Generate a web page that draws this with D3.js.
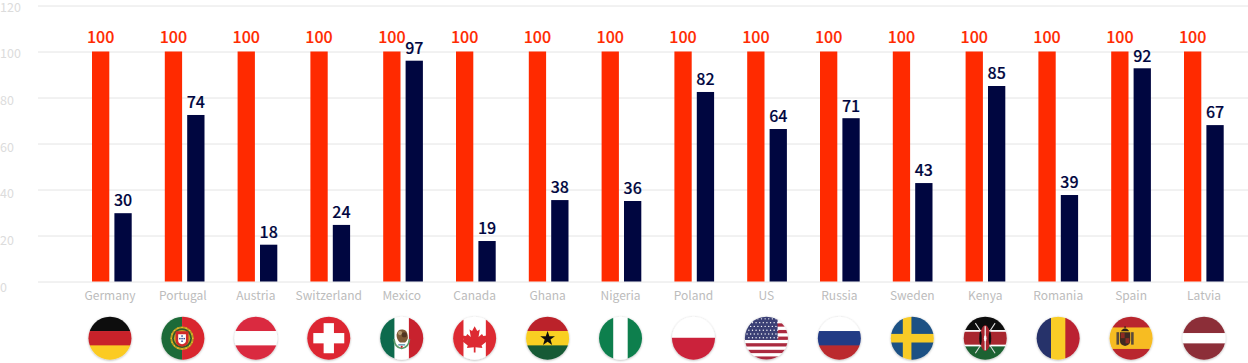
<!DOCTYPE html>
<html><head><meta charset="utf-8">
<script src="https://cdn.jsdelivr.net/npm/d3@7/dist/d3.min.js"></script>
<style>
html,body{margin:0;padding:0;background:#fff;overflow:hidden}
text{font-family:"Noto Sans CJK KR","Noto Sans",sans-serif}
</style></head><body><svg id="c" width="1248" height="363"></svg>
<script>
const categories=["Germany","Portugal","Austria","Switzerland","Mexico","Canada","Ghana","Nigeria","Poland","US","Russia","Sweden","Kenya","Romania","Spain","Latvia"];
const referenceValues=[100,100,100,100,100,100,100,100,100,100,100,100,100,100,100,100];
const countryValues=[29.7,72.4,16,24.6,96,17.6,35.4,35,82.4,66.3,71,42.8,85,37.6,92.7,68];
const countryLabels=[30,74,18,24,97,19,38,36,82,64,71,43,85,39,92,67];
const yTicks=[0,20,40,60,80,100,120];
const RED="#ff2a00",NAVY="#000640";

const svg=d3.select("#c");
const y=d3.scaleLinear().domain([0,120]).range([281.5,5.5]);
const yLabel=d3.scaleLinear().domain([0,120]).range([285.7,5.7]);
// labels and flags sit on a slightly wider band than the bars
const x=d3.scaleBand().domain(categories).range([73.5,1240.5]);
const xBar=d3.scaleBand().domain(categories).range([92,92+72.8*16]);
const barW=17.3;
const xRef=c=>xBar(c), xVal=c=>xBar(c)+22.4;

const gy=svg.append("g").attr("transform","translate(38,0)")
  .call(d3.axisLeft(y).tickValues(yTicks).tickSize(-1210));
gy.select(".domain").remove();
gy.selectAll("line").attr("stroke","#e4e4e4").attr("stroke-width",1);
gy.selectAll("text").attr("x",-38).attr("text-anchor","start").attr("fill","#dcdcdc").attr("font-size",12.5).attr("font-weight",400)
  .attr("dy",null).attr("dominant-baseline","central")
  .attr("y",d=>yLabel(d)-y(d));

const gx=svg.append("g").attr("transform","translate(0,281.5)")
  .call(d3.axisBottom(x).tickSize(0).tickPadding(10));
gx.select(".domain").remove();
gx.selectAll("text").attr("fill","#bcbcbc").attr("font-size",12).attr("font-weight",400);

svg.append("g").selectAll("rect").data(categories).join("rect")
  .attr("x",c=>xRef(c)).attr("width",barW)
  .attr("y",(c,i)=>y(referenceValues[i])).attr("height",(c,i)=>y(0)-y(referenceValues[i])).attr("fill",RED);
svg.append("g").selectAll("rect").data(categories).join("rect")
  .attr("x",c=>xVal(c)).attr("width",barW)
  .attr("y",(c,i)=>y(countryValues[i])).attr("height",(c,i)=>y(0)-y(countryValues[i])).attr("fill",NAVY);

svg.append("g").selectAll("text").data(categories).join("text")
  .attr("x",c=>xRef(c)+barW/2).attr("y",(c,i)=>y(referenceValues[i])-8.2)
  .attr("text-anchor","middle").attr("fill",RED).attr("stroke",RED).attr("stroke-width",.15).attr("font-size",16).attr("font-weight",500)
  .text((c,i)=>referenceValues[i]);
svg.append("g").selectAll("text").data(categories).join("text")
  .attr("x",c=>xVal(c)+barW/2).attr("y",(c,i)=>y(countryValues[i])-6.7)
  .attr("text-anchor","middle").attr("fill",NAVY).attr("stroke",NAVY).attr("stroke-width",.15).attr("font-size",16).attr("font-weight",500)
  .text((c,i)=>countryLabels[i]);

// flags, drawn in a 100x100 box clipped by a circle
const defs=svg.append("defs");
defs.append("clipPath").attr("id","flagClip").append("circle").attr("cx",50).attr("cy",50).attr("r",50);
const sh=defs.append("filter").attr("id","sh").attr("x","-20%").attr("y","-20%").attr("width","140%").attr("height","140%");
sh.append("feDropShadow").attr("dx",0).attr("dy",1.5).attr("stdDeviation",2.6).attr("flood-color","#000").attr("flood-opacity",.3);
const bl=defs.append("filter").attr("id","soft").attr("x","-5%").attr("y","-5%").attr("width","110%").attr("height","110%");
bl.append("feGaussianBlur").attr("stdDeviation",.7);

const R=(g,x,y,w,h,f)=>g.append("rect").attr("x",x).attr("y",y).attr("width",w).attr("height",h).attr("fill",f);
const H=(g,cols)=>cols.forEach((c,i)=>R(g,-2,i*100/cols.length-(i?0:2),104,100/cols.length+2.3,c));
const V=(g,cols)=>cols.forEach((c,i)=>R(g,i*100/cols.length-(i?0:2),-2,100/cols.length+2.3,104,c));
const C=(g,x,y,r,f)=>g.append("circle").attr("cx",x).attr("cy",y).attr("r",r).attr("fill",f);
const P=(g,d,f,s,sw)=>g.append("path").attr("d",d).attr("fill",f||"none").attr("stroke",s||"none").attr("stroke-width",sw||0);
const star=(cx,cy,r)=>d3.range(10).map(i=>{const a=-Math.PI/2+i*Math.PI/5,q=i%2?r*.4:r;return (i?"L":"M")+(cx+q*Math.cos(a))+","+(cy+q*Math.sin(a));}).join("")+"Z";

const flags={
 Germany:g=>H(g,["#0d0d0d","#c8242b","#fbcb23"]),
 Portugal:g=>{R(g,-2,-2,50,104,"#1c6b38");R(g,48,-2,54,104,"#d9282f");
   C(g,48,50,27,"#b89a22");C(g,48,50,23,"#2f5a2a");
   d3.range(16).forEach(i=>{const a=i*Math.PI/8;C(g,48+25*Math.cos(a),50+25*Math.sin(a),1.8,"#e8c92c");});
   C(g,48,50,19,"#c8a428");P(g,"M33 34H63V55Q63 68 48 70Q33 68 33 55Z","#cf2a2c");
   P(g,"M39 41H57V56Q57 62 48 64Q39 62 39 56Z","#fff");
   [[48,45],[43,51],[48,51],[53,51],[48,57]].forEach(p=>R(g,p[0]-1.7,p[1]-1.7,3.4,3.4,"#27408f"));},
 Austria:g=>H(g,["#da2c3f","#ffffff","#da2c3f"]),
 Switzerland:g=>{R(g,-2,-2,104,104,"#dd2530");R(g,38,15,24,70,"#fff");R(g,14,38,72,24,"#fff");},
 Mexico:g=>{V(g,["#0f6b4d","#ffffff","#c8242f"]);
   P(g,"M38 42Q40 30 50 30Q62 28 64 44Q66 54 58 60H46Q38 54 38 42Z","#7d5a35");
   C(g,46,38,5,"#b59a70");C(g,56,42,6,"#4f3420");
   P(g,"M32 52Q34 72 50 74Q66 72 68 52","none","#5f9a68",4);
   R(g,42,64,16,3,"#4d8fa8");C(g,50,70,2.5,"#c8242f");},
 Canada:g=>{R(g,-2,-2,104,104,"#fff");R(g,-2,-2,26,104,"#dd2a30");R(g,76,-2,26,104,"#dd2a30");
   P(g,"M50 22L56 33L62 30L59 47L67 40L70 45L79 44L76 53L80 56L66 67L68 73L52 71L52 83H48L48 71L32 73L34 67L20 56L24 53L21 44L30 45L33 40L41 47L38 30L44 33Z","#dd2a30");},
 Ghana:g=>{H(g,["#bb2429","#f9cf24","#175a36"]);P(g,star(50,51,18),"#111");},
 Nigeria:g=>V(g,["#0f7f4d","#ffffff","#0f7f4d"]),
 Poland:g=>{R(g,-2,-2,104,52,"#fff");R(g,-2,49,104,53,"#cb223a");},
 US:g=>{R(g,-2,-2,104,104,"#fff");d3.range(7).forEach(i=>R(g,-2,i*15.4,104,7.7,"#ab2b3f"));R(g,-2,-2,78,56,"#3a3f75");
   d3.range(6).forEach(r=>d3.range(9).forEach(c=>C(g,5+c*8.4+(r%2?4.2:0),5+r*8.8,1.6,"#fff")));},
 Russia:g=>H(g,["#ffffff","#233a85","#bb2c2e"]),
 Sweden:g=>{R(g,-2,-2,104,104,"#1c5184");R(g,28,-2,20,104,"#f8cb27");R(g,-2,40,104,20,"#f8cb27");},
 Kenya:g=>{H(g,["#0d0d0d","#a8252e","#1d6233"]);R(g,-2,31,104,4,"#fff");R(g,-2,65,104,4,"#fff");
   P(g,"M27 15L73 85M73 15L27 85","none","#ddd",2.5);
   g.append("ellipse").attr("cx",50).attr("cy",50).attr("rx",12).attr("ry",30).attr("fill","#a8252e");
   g.append("ellipse").attr("cx",39).attr("cy",50).attr("rx",3).attr("ry",16).attr("fill","#111");
   g.append("ellipse").attr("cx",61).attr("cy",50).attr("rx",3).attr("ry",16).attr("fill","#111");
   R(g,48.5,22,3,56,"#eee");g.append("ellipse").attr("cx",50).attr("cy",50).attr("rx",3).attr("ry",7).attr("fill","#fff");},
 Romania:g=>V(g,["#26306a","#f9cd27","#bb2430"]),
 Spain:g=>{R(g,-2,-2,104,104,"#b9252d");R(g,-2,25,104,50,"#f7bc22");
   R(g,16,36,6,29,"#5a4a3a");R(g,50,36,6,29,"#5a4a3a");
   P(g,"M24 36H48V56Q48 66 36 68Q24 66 24 56Z","#3f2a20");
   R(g,26,38,9,12,"#8f2a22");R(g,37,50,9,12,"#8f2a22");
   P(g,"M26 34Q36 20 46 34Z","#2f241a");C(g,36,24,2,"#2f241a");},
 Latvia:g=>{R(g,-2,-2,104,104,"#8c2f39");R(g,-2,38,104,24,"#fff");}
};
const fg=svg.append("g");
categories.forEach(c=>{
  const cx=x(c)+x.bandwidth()/2;
  const outer=fg.append("g").attr("transform",`translate(${cx-21.5},316.7) scale(.43)`).attr("filter","url(#sh)");
  const g=outer.append("g").attr("clip-path","url(#flagClip)").append("g").attr("filter","url(#soft)");
  flags[c](g);
});
</script></body></html>
